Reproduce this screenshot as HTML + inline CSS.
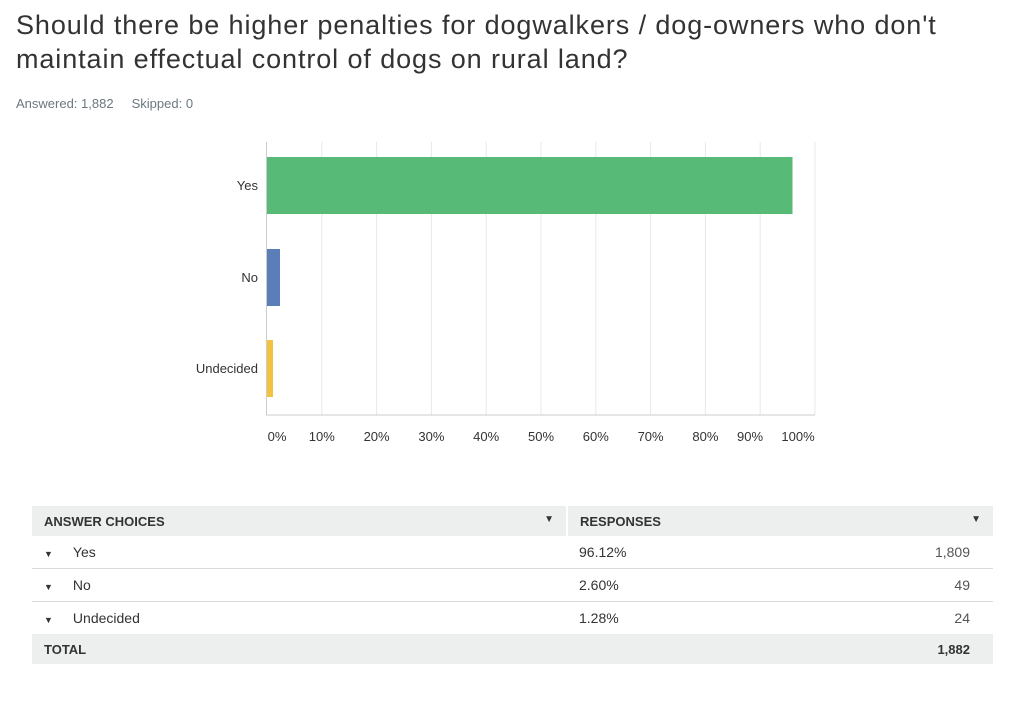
<!DOCTYPE html>
<html><head><style>
body{margin:0;width:1024px;height:705px;background:#fff;font-family:"Liberation Sans",sans-serif;color:#333;position:relative;overflow:hidden}
.t{position:absolute;left:16px;top:8px;font-size:27px;line-height:34px;color:#333;width:1010px;letter-spacing:0.9px;white-space:nowrap}
.s{position:absolute;left:16px;top:96px;font-size:13px;color:#6b787f}
table{position:absolute;left:32px;top:506px;width:961px;border-collapse:collapse;font-size:14px}
td{padding:0 12px;height:32px}
.h td{background:#edeeee;font-weight:bold;font-size:13px;height:30px}
.r td{border-bottom:1px solid #d9dcdc}
.tot td{background:#edeeee;font-weight:bold;font-size:13px;height:30px}
.tri{font-size:9px;margin-right:20px}
.n{text-align:right;color:#555;padding-right:23px}
</style></head><body>
<div class="t">Should there be higher penalties for dogwalkers / dog-owners who don't<br>maintain effectual control of dogs on rural land?</div>
<div class="s">Answered: 1,882&nbsp;&nbsp;&nbsp;&nbsp;&nbsp;Skipped: 0</div>
<svg style="position:absolute;left:0;top:0" width="1024" height="460">
<g stroke="#e8e8e8" stroke-width="1">
<line x1="321.8" y1="142" x2="321.8" y2="415"/><line x1="376.6" y1="142" x2="376.6" y2="415"/><line x1="431.4" y1="142" x2="431.4" y2="415"/><line x1="486.2" y1="142" x2="486.2" y2="415"/><line x1="541" y1="142" x2="541" y2="415"/><line x1="595.8" y1="142" x2="595.8" y2="415"/><line x1="650.6" y1="142" x2="650.6" y2="415"/><line x1="705.4" y1="142" x2="705.4" y2="415"/><line x1="760.2" y1="142" x2="760.2" y2="415"/><line x1="815" y1="142" x2="815" y2="415"/>
</g>
<line x1="266.5" y1="142" x2="266.5" y2="415" stroke="#ccc"/>
<line x1="266" y1="415" x2="815" y2="415" stroke="#ccc"/>
<rect x="267" y="157" width="525.5" height="57" fill="#57bb77"/>
<rect x="267" y="249" width="13" height="57" fill="#5b7db8"/>
<rect x="267" y="340" width="6" height="57" fill="#f3c33f"/>
<g font-size="13" fill="#333" text-anchor="end" font-family="Liberation Sans,sans-serif">
<text x="258" y="190">Yes</text><text x="258" y="282">No</text><text x="258" y="373">Undecided</text>
</g>
<g font-size="13" fill="#333" text-anchor="middle" font-family="Liberation Sans,sans-serif">
<text x="277" y="441">0%</text><text x="321.8" y="441">10%</text><text x="376.6" y="441">20%</text><text x="431.4" y="441">30%</text><text x="486.2" y="441">40%</text><text x="541" y="441">50%</text><text x="595.8" y="441">60%</text><text x="650.6" y="441">70%</text><text x="705.4" y="441">80%</text><text x="750" y="441">90%</text><text x="798" y="441">100%</text>
</g>
</svg>
<table>
<tr class="h"><td style="width:510px;border-right:2px solid #fff">ANSWER CHOICES<span style="float:right;font-size:10px">▼</span></td><td colspan="2">RESPONSES<span style="float:right;font-size:10px">▼</span></td></tr>
<tr class="r"><td><span class="tri">▼</span>Yes</td><td>96.12%</td><td class="n">1,809</td></tr>
<tr class="r"><td><span class="tri">▼</span>No</td><td>2.60%</td><td class="n">49</td></tr>
<tr><td><span class="tri">▼</span>Undecided</td><td>1.28%</td><td class="n">24</td></tr>
<tr class="tot"><td>TOTAL</td><td></td><td class="n" style="color:#333">1,882</td></tr>
</table>
</body></html>
